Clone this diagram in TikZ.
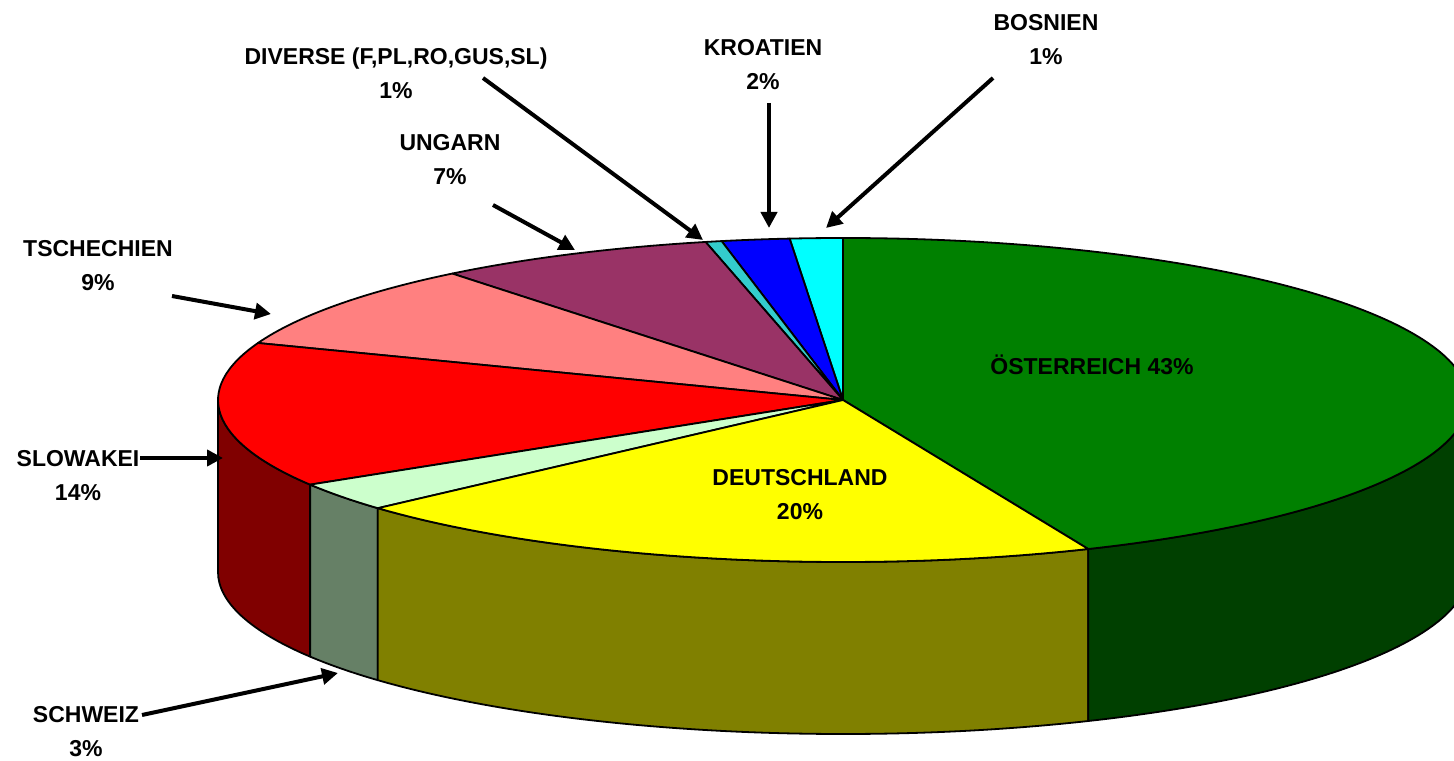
\documentclass[tikz,border=0pt]{standalone}
\usepackage{fontspec}
\setmainfont{Liberation Sans}
\usetikzlibrary{arrows.meta}
\pgfdeclarelayer{edgelayer}
\pgfdeclarelayer{nodelayer}
\pgfsetlayers{main,edgelayer,nodelayer}
\definecolor{attop}{RGB}{0,128,0}
\definecolor{atside}{RGB}{0,64,0}
\definecolor{detop}{RGB}{255,255,0}
\definecolor{deside}{RGB}{128,128,0}
\definecolor{chtop}{RGB}{204,255,204}
\definecolor{chside}{RGB}{102,128,102}
\definecolor{sktop}{RGB}{255,0,0}
\definecolor{skside}{RGB}{128,0,0}
\definecolor{cztop}{RGB}{255,128,128}
\definecolor{hutop}{RGB}{153,51,102}
\definecolor{divtop}{RGB}{51,204,204}
\definecolor{hrtop}{RGB}{0,0,255}
\definecolor{batop}{RGB}{0,255,255}
\tikzstyle{slice}=[draw=black, line width=0.9pt, line join=round]
\tikzstyle{pielabel}=[font=\fontsize{11.5}{17}\selectfont\bfseries, align=center, inner sep=0pt]
\tikzstyle{arrowedge}=[draw=black, line width=2pt, -{Triangle[length=8pt,width=8pt]}]

\begin{document}
\begin{tikzpicture}[x=0.5pt, y=0.5pt]
	\clip (0,0) rectangle (1454,760);
	% pie, centre of the top face at (843,360), depth 172
	\begin{scope}[shift={(843,360)}]
		\draw [style=slice, fill=skside] (180:625 and 162) arc[start angle=180, end angle=211.5, x radius=625, y radius=162] -- ++(0,-172) arc[start angle=211.5, end angle=180, x radius=625, y radius=162] -- cycle;
		\draw [style=slice, fill=chside] (211.5:625 and 162) arc[start angle=211.5, end angle=221.9, x radius=625, y radius=162] -- ++(0,-172) arc[start angle=221.9, end angle=211.5, x radius=625, y radius=162] -- cycle;
		\draw [style=slice, fill=deside] (221.9:625 and 162) arc[start angle=221.9, end angle=293.1, x radius=625, y radius=162] -- ++(0,-172) arc[start angle=293.1, end angle=221.9, x radius=625, y radius=162] -- cycle;
		\draw [style=slice, fill=atside] (293.1:625 and 162) arc[start angle=293.1, end angle=360, x radius=625, y radius=162] -- ++(0,-172) arc[start angle=360, end angle=293.1, x radius=625, y radius=162] -- cycle;
		\draw [style=slice, fill=attop] (0,0) -- (-66.9:625 and 162) arc[start angle=-66.9, end angle=90, x radius=625, y radius=162] -- cycle;
		\draw [style=slice, fill=batop] (0,0) -- (90:625 and 162) arc[start angle=90, end angle=94.9, x radius=625, y radius=162] -- cycle;
		\draw [style=slice, fill=hrtop] (0,0) -- (94.9:625 and 162) arc[start angle=94.9, end angle=101.2, x radius=625, y radius=162] -- cycle;
		\draw [style=slice, fill=divtop] (0,0) -- (101.2:625 and 162) arc[start angle=101.2, end angle=102.7, x radius=625, y radius=162] -- cycle;
		\draw [style=slice, fill=hutop] (0,0) -- (102.7:625 and 162) arc[start angle=102.7, end angle=128.7, x radius=625, y radius=162] -- cycle;
		\draw [style=slice, fill=cztop] (0,0) -- (128.7:625 and 162) arc[start angle=128.7, end angle=159.4, x radius=625, y radius=162] -- cycle;
		\draw [style=slice, fill=sktop] (0,0) -- (159.4:625 and 162) arc[start angle=159.4, end angle=211.5, x radius=625, y radius=162] -- cycle;
		\draw [style=slice, fill=chtop] (0,0) -- (211.5:625 and 162) arc[start angle=211.5, end angle=221.9, x radius=625, y radius=162] -- cycle;
		\draw [style=slice, fill=detop] (0,0) -- (221.9:625 and 162) arc[start angle=221.9, end angle=293.1, x radius=625, y radius=162] -- cycle;
	\end{scope}
	\begin{pgfonlayer}{nodelayer}
		\node [style=pielabel] (at) at (1092,395) {ÖSTERREICH 43\%};
		\node [style=pielabel] (de) at (800,265.5) {DEUTSCHLAND\\20\%};
		\node [style=pielabel] (div) at (396,686.5) {DIVERSE (F,PL,RO,GUS,SL)\\1\%};
		\node [style=pielabel] (hu) at (450,600) {UNGARN\\7\%};
		\node [style=pielabel] (hr) at (763,695.5) {KROATIEN\\2\%};
		\node [style=pielabel] (ba) at (1046,720.5) {BOSNIEN\\1\%};
		\node [style=pielabel] (cz) at (98,494.5) {TSCHECHIEN\\9\%};
		\node [style=pielabel] (sk) at (78,284.5) {SLOWAKEI\\14\%};
		\node [style=pielabel] (ch) at (86,28.5) {SCHWEIZ\\3\%};
		\coordinate (div-from) at (483,682);
		\coordinate (div-to) at (703,520);
		\coordinate (hu-from) at (493,555);
		\coordinate (hu-to) at (575,510);
		\coordinate (hr-from) at (769,657);
		\coordinate (hr-to) at (769,532);
		\coordinate (ba-from) at (993,682);
		\coordinate (ba-to) at (826,532);
		\coordinate (cz-from) at (172,464);
		\coordinate (cz-to) at (271,446);
		\coordinate (sk-from) at (140,302);
		\coordinate (sk-to) at (223,302);
		\coordinate (ch-from) at (142,45);
		\coordinate (ch-to) at (338,87);
	\end{pgfonlayer}
	\begin{pgfonlayer}{edgelayer}
		\draw [style=arrowedge] (div-from) to (div-to);
		\draw [style=arrowedge] (hu-from) to (hu-to);
		\draw [style=arrowedge] (hr-from) to (hr-to);
		\draw [style=arrowedge] (ba-from) to (ba-to);
		\draw [style=arrowedge] (cz-from) to (cz-to);
		\draw [style=arrowedge] (sk-from) to (sk-to);
		\draw [style=arrowedge] (ch-from) to (ch-to);
	\end{pgfonlayer}
\end{tikzpicture}
\end{document}
